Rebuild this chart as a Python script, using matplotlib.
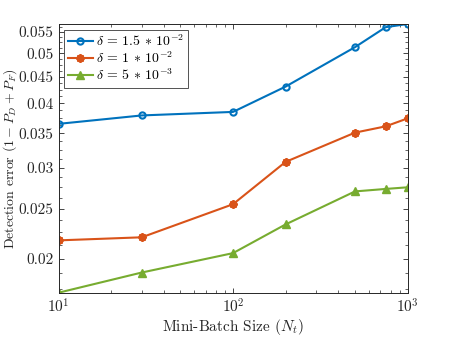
import matplotlib
matplotlib.use("Agg")
import matplotlib.pyplot as plt
import numpy as np
from matplotlib.ticker import FixedLocator, FixedFormatter, LogLocator, LogFormatterMathtext, NullFormatter

plt.rcParams['font.family'] = 'serif'
plt.rcParams['font.serif'] = ['cmr10', 'DejaVu Serif']
plt.rcParams['mathtext.fontset'] = 'cm'
plt.rcParams['axes.unicode_minus'] = False
plt.rcParams['axes.formatter.use_mathtext'] = True

batch = [10, 30, 100, 200, 500, 750, 1000]
err_15e2 = [0.0365, 0.0379, 0.0385, 0.0431, 0.0514, 0.0562, 0.0570]
err_1e2 = [0.0217, 0.0220, 0.0255, 0.0308, 0.0351, 0.0361, 0.0374]
err_5e3 = [0.01718, 0.0188, 0.0205, 0.0233, 0.0270, 0.0273, 0.0275]
labels = [r'$\delta\,=\,1.5\,\ast\,10^{-2}$', r'$\delta\,=\,1\,\ast\,10^{-2}$', r'$\delta\,=\,5\,\ast\,10^{-3}$']
yticks = [0.02, 0.025, 0.03, 0.035, 0.04, 0.045, 0.05, 0.055]
yticklabels = ['0.02', '0.025', '0.03', '0.035', '0.04', '0.045', '0.05', '0.055']

fig = plt.figure(figsize=(4.5, 3.38), dpi=100)
ax = fig.add_axes([0.13, 0.134, 0.7756, 0.795])

ax.plot(batch, err_15e2, color='#0072BD', lw=1.5, marker='o', ms=4.5, mfc='none', mew=1.5, label=labels[0])
ax.plot(batch, err_1e2, color='#D95319', lw=1.5, marker=(8, 2, 0), ms=6, mew=1.5, label=labels[1])
ax.plot(batch, err_5e3, color='#77AC30', lw=1.5, marker='^', ms=5.5, mew=1.0, label=labels[2])

ax.set_xscale('log')
ax.set_yscale('log')
ax.set_xlim(10, 1000)
ax.set_ylim(min(err_5e3), max(err_15e2))

ax.yaxis.set_major_locator(FixedLocator(yticks))
ax.yaxis.set_major_formatter(FixedFormatter(yticklabels))
ax.yaxis.set_minor_locator(FixedLocator(list(np.arange(0.01625, 0.0575, 0.00125))))
ax.yaxis.set_minor_formatter(NullFormatter())
ax.xaxis.set_major_locator(LogLocator(base=10))
ax.xaxis.set_major_formatter(LogFormatterMathtext())
ax.xaxis.set_minor_locator(LogLocator(base=10, subs=np.arange(2, 10)))
ax.xaxis.set_minor_formatter(NullFormatter())

axc = '#262626'
for s in ax.spines.values():
    s.set_color(axc)
    s.set_linewidth(0.7)
ax.tick_params(which='both', direction='in', top=True, right=True, colors=axc, labelcolor=axc, labelsize=11)
ax.tick_params(which='major', length=3.5, width=0.6)
ax.tick_params(which='minor', length=2.2, width=0.5)

ax.set_xlabel(r'Mini-Batch Size $(N_t)$', fontsize=11, color=axc, labelpad=1)
ax.set_ylabel(r'Detection error $(1-P_D+P_F)$', fontsize=10, color=axc)
ax.yaxis.set_label_coords(-0.112, 0.5)

leg = ax.legend(loc='upper left', fontsize=10, frameon=True, fancybox=False, borderpad=0.3,
                handlelength=1.75, handletextpad=0.25, labelspacing=0.1, borderaxespad=0.4)
leg.get_frame().set_edgecolor(axc)
leg.get_frame().set_linewidth(0.7)

fig.savefig('out.png', dpi=100)
